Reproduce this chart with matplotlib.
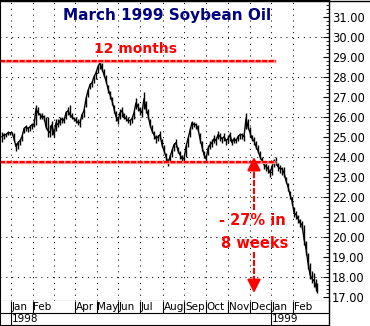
import matplotlib
matplotlib.use("Agg")
import matplotlib.pyplot as plt
from matplotlib.lines import Line2D
from matplotlib.ticker import FixedLocator, MultipleLocator

# daily bars, x = trading day index (about one day per pixel column)
days = [2, 4, 6, 8, 10, 12, 14, 16, 18, 20, 22, 24, 26, 28, 30, 32, 34, 36, 38, 40,
        42, 44, 46, 48, 50, 52, 54, 56, 58, 60, 62, 64, 66, 68, 70, 72, 74, 76, 78, 80,
        82, 84, 86, 88, 90, 92, 94, 96, 98, 100, 102, 104, 106, 108, 110, 112, 114, 116, 118, 120,
        122, 124, 126, 128, 130, 132, 134, 136, 138, 140, 142, 144, 146, 148, 150, 152, 154, 156, 158, 160,
        162, 164, 166, 168, 170, 172, 174, 176, 178, 180, 182, 184, 186, 188, 190, 192, 194, 196, 198, 200,
        202, 204, 206, 208, 210, 212, 214, 216, 218, 220, 222, 224, 226, 228, 230, 232, 234, 236, 238, 240,
        242, 244, 246, 248, 250, 252, 254, 256, 258, 260, 262, 264, 266, 268, 270, 272, 274, 276, 278, 280,
        282, 284, 286, 288, 290, 292, 294, 296, 298, 300, 302, 304, 306, 308, 310, 312, 314, 316, 317]
highs = [25.25, 25.2, 25.2, 25.3, 25.25, 25.25, 25.2, 24.7, 24.8, 24.9, 25.1, 25.5, 25.6, 25.5, 25.6, 25.7, 25.7, 26.6, 26.5, 26.2,
         26.2, 26.1, 26.0, 26.0, 25.6, 25.8, 25.4, 25.9, 25.9, 26.0, 26.0, 26.0, 26.3, 26.5, 26.6, 26.2, 26.0, 26.0, 25.9, 25.9,
         26.2, 26.4, 27.0, 27.4, 27.7, 27.8, 28.1, 28.3, 28.6, 28.85, 28.7, 28.4, 28.1, 27.6, 27.3, 27.0, 26.6, 26.3, 26.0, 26.4,
         26.5, 26.2, 26.1, 26.0, 25.9, 26.0, 26.3, 26.95, 26.7, 26.5, 26.4, 27.25, 26.8, 26.4, 25.9, 25.6, 25.3, 25.1, 25.1, 25.3,
         24.9, 24.6, 24.2, 23.9, 24.1, 24.4, 24.7, 24.9, 24.5, 24.3, 24.1, 24.0, 24.6, 25.0, 25.5, 25.8, 25.75, 25.7, 25.6, 25.2,
         24.8, 24.3, 24.1, 24.6, 24.8, 24.9, 25.1, 25.0, 25.3, 25.2, 25.0, 25.2, 24.9, 25.1, 25.25, 24.9, 25.0, 24.9, 25.1, 25.2,
         25.2, 25.1, 26.2, 25.9, 25.5, 25.1, 25.0, 24.8, 24.6, 24.3, 24.0, 23.8, 23.7, 23.6, 23.4, 23.6, 23.9, 24.0, 23.7, 23.6,
         23.5, 23.5, 23.0, 22.7, 22.3, 22.0, 21.5, 21.3, 21.1, 20.9, 20.8, 20.6, 19.8, 19.2, 18.7, 18.3, 18.2, 17.9, 17.7]
lows = [24.75, 24.9, 25.0, 25.1, 25.1, 25.1, 24.8, 24.3, 24.4, 24.6, 24.8, 25.2, 25.3, 25.25, 25.3, 25.4, 25.5, 25.6, 26.1, 25.9,
        25.9, 25.8, 25.4, 25.0, 25.0, 25.1, 25.0, 25.3, 25.5, 25.6, 25.7, 25.7, 25.9, 26.1, 26.0, 25.9, 25.8, 25.7, 25.6, 25.5,
        25.9, 26.0, 26.5, 27.0, 27.4, 27.5, 27.7, 27.9, 28.2, 28.4, 28.3, 28.0, 27.7, 27.2, 26.9, 26.6, 26.2, 25.8, 25.65, 25.9,
        26.0, 25.9, 25.8, 25.7, 25.6, 25.7, 25.9, 26.4, 26.3, 26.1, 26.0, 26.4, 26.2, 25.9, 25.5, 25.2, 24.9, 24.7, 24.8, 24.9,
        24.5, 24.2, 23.8, 23.55, 23.7, 24.0, 24.3, 24.5, 24.2, 23.9, 23.8, 23.75, 24.0, 24.5, 25.0, 25.4, 25.5, 25.4, 25.3, 24.7,
        24.3, 23.95, 23.75, 24.1, 24.4, 24.5, 24.7, 24.6, 24.9, 24.8, 24.7, 24.8, 24.6, 24.7, 24.8, 24.6, 24.7, 24.7, 24.8, 24.9,
        24.9, 24.8, 25.4, 25.4, 25.0, 24.8, 24.6, 24.4, 24.2, 23.9, 23.7, 23.4, 23.3, 23.2, 23.0, 23.1, 23.5, 23.6, 23.3, 23.2,
        23.1, 23.0, 22.7, 22.3, 21.9, 21.6, 21.0, 20.9, 20.7, 20.5, 20.4, 19.6, 19.1, 18.4, 17.9, 17.7, 17.5, 17.3, 17.2]
closes = [25.0, 25.1, 25.1, 25.2, 25.2, 25.2, 24.9, 24.5, 24.7, 24.8, 25.0, 25.4, 25.5, 25.4, 25.5, 25.6, 25.6, 26.4, 26.2, 26.1,
          26.0, 26.0, 25.5, 25.3, 25.2, 25.6, 25.1, 25.7, 25.6, 25.8, 25.9, 25.8, 26.2, 26.3, 26.1, 26.0, 25.9, 25.8, 25.7, 25.7,
          26.1, 26.3, 26.9, 27.3, 27.6, 27.7, 28.0, 28.2, 28.5, 28.7, 28.4, 28.1, 27.8, 27.4, 27.1, 26.8, 26.4, 26.0, 25.8, 26.2,
          26.3, 26.0, 25.9, 25.8, 25.8, 25.9, 26.2, 26.7, 26.5, 26.3, 26.2, 26.9, 26.4, 26.1, 25.6, 25.3, 25.1, 24.9, 25.0, 25.1,
          24.6, 24.3, 24.0, 23.7, 24.0, 24.3, 24.6, 24.7, 24.3, 24.1, 23.9, 23.9, 24.5, 24.9, 25.3, 25.7, 25.6, 25.6, 25.4, 24.9,
          24.5, 24.1, 23.9, 24.4, 24.6, 24.7, 24.9, 24.8, 25.1, 25.0, 24.9, 25.0, 24.8, 24.9, 25.1, 24.7, 24.9, 24.8, 25.0, 25.1,
          25.1, 25.0, 25.9, 25.5, 25.2, 24.9, 24.8, 24.5, 24.3, 24.0, 23.8, 23.6, 23.5, 23.4, 23.2, 23.5, 23.8, 23.7, 23.5, 23.4,
          23.4, 23.2, 22.8, 22.5, 22.1, 21.8, 21.2, 21.1, 20.9, 20.7, 20.6, 19.9, 19.4, 18.7, 18.1, 17.9, 17.8, 17.5, 17.3]

month_x = [10.5, 32.5, 53.5, 75, 96.5, 118, 139.5, 162.5, 184, 205.5, 227.5, 249.5, 271, 293]
month_names = ["Jan", "Feb", "", "Apr", "May", "Jun", "Jul", "Aug", "Sep", "Oct", "Nov", "Dec", "Jan", "Feb"]
year_x = [10.5, 271]
year_names = ["1998", "1999"]

peak_level = 28.8
support_level = 23.75
line_end = 276
arrow_day = 254

W, H = 370, 326
fig = plt.figure(figsize=(W / 100, H / 100), dpi=100)
fig.patch.set_facecolor("white")

ax = fig.add_axes([0, 25 / H, 328.5 / W, 301 / H])
ax.set_xlim(0, 328.5)
ax.set_ylim(16.785, 31.835)

dots = dict(color="black", lw=0.75, dashes=(1, 4.6))
for mx in month_x:
    ax.axvline(mx, **dots)
for lvl in range(18, 31, 2):
    ax.axhline(lvl, **dots)

# price bars
ax.vlines(days, lows, highs, color="black", lw=1.0)
ax.plot(days, closes, color="black", lw=1.0)

# red reference lines
for lvl in (peak_level, support_level):
    ax.plot([0, line_end], [lvl, lvl], color="#ff9a9a", lw=2.4, solid_capstyle="butt")
    ax.plot([0, line_end], [lvl, lvl], color="red", lw=1.6, dashes=(2.25, 0.7))

# arrows
ax.plot([arrow_day, arrow_day], [21.335, 23.5], color="red", lw=1.5, dashes=(3, 0.8))
ax.annotate("", xy=(arrow_day, 23.985), xytext=(arrow_day, 23.3),
            arrowprops=dict(arrowstyle="-|>,head_length=0.8,head_width=0.4",
                            color="red", lw=1.5, shrinkA=0, shrinkB=0))
ax.plot([arrow_day, arrow_day], [19.235, 17.7], color="red", lw=1.5, dashes=(3, 0.8))
ax.annotate("", xy=(arrow_day, 17.185), xytext=(arrow_day, 17.9),
            arrowprops=dict(arrowstyle="-|>,head_length=0.8,head_width=0.4",
                            color="red", lw=1.5, shrinkA=0, shrinkB=0))

ax.text(167.5, 31.05, "March 1999 Soybean Oil", ha="center", va="center",
        fontsize=11, fontweight="bold", color="#000080")
ax.text(136, 29.385, "12 months", ha="center", va="center",
        fontsize=10, fontweight="bold", color="red")
ax.text(252.5, 20.835, "- 27% in", ha="center", va="center",
        fontsize=10.5, fontweight="bold", color="red")
ax.text(255, 19.685, "8 weeks", ha="center", va="center",
        fontsize=10.5, fontweight="bold", color="red")

# axis on the right
ax.yaxis.tick_right()
ax.yaxis.set_major_locator(FixedLocator(range(17, 32)))
ax.yaxis.set_minor_locator(MultipleLocator(0.2))
ax.set_yticklabels([f"{v:.2f}" for v in range(17, 32)])
ax.tick_params(axis="y", which="major", direction="in", length=4, width=0.8,
               pad=2.5, labelsize=8.3, colors="black")
ax.tick_params(axis="y", which="minor", direction="in", length=2, width=0.6)
ax.set_xticks([])
for side in ("left", "top"):
    ax.spines[side].set_linewidth(1.5)
ax.spines["right"].set_linewidth(1.0)
ax.spines["bottom"].set_linewidth(0.8)

# date band below the chart
bx = fig.add_axes([0, 1 / H, 328.5 / W, 24 / H])
bx.set_xlim(0, 328.5)
bx.set_ylim(24, 0)
bx.set_xticks([])
bx.set_yticks([])
bx.spines["top"].set_visible(False)
bx.spines["left"].set_linewidth(1.5)
bx.spines["right"].set_linewidth(1.0)
bx.spines["bottom"].set_linewidth(0.8)
bx.axhline(12, color="black", lw=0.8)
for mx, name in zip(month_x, month_names):
    if name:
        bx.vlines(mx, 0, 12, color="black", lw=0.8)
        bx.text(mx + 1, 6.3, name, ha="left", va="center", fontsize=7.5)
for yx, name in zip(year_x, year_names):
    bx.vlines(yx, 12, 24, color="black", lw=0.8)
    bx.text(yx + 1, 18.3, name, ha="left", va="center", fontsize=7.5)

fig.add_artist(Line2D([0, 1], [1 - 0.5 / H, 1 - 0.5 / H], transform=fig.transFigure,
                      color="black", lw=1.0))

fig.savefig("out.png", dpi=100)
